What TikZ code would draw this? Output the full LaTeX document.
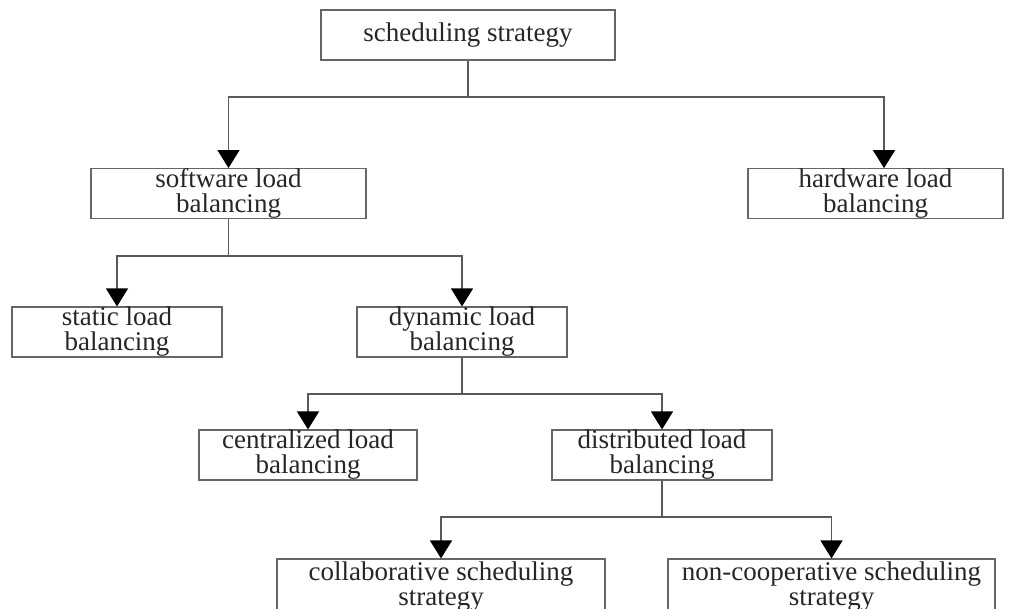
\documentclass[tikz,border=0pt]{standalone}
\usepackage{fontspec}
\setmainfont{Liberation Serif}
\usetikzlibrary{arrows.meta}
\begin{document}
\begin{tikzpicture}[x=1pt,y=-1pt,
  box/.style={draw=black!60,line width=1.1pt,inner sep=0pt,align=center,
    text=black!85,font=\fontsize{27pt}{25pt}\selectfont},
  link/.style={draw=black!65,line width=1.2pt},
  arr/.style={link,-{Triangle[width=22pt,length=18pt,black]}}]
\useasboundingbox (0,0) rectangle (1011,609);
\node[box,minimum width=294pt,minimum height=50pt] (top) at (468,35) {scheduling strategy};
\node[box,minimum width=275pt,minimum height=49pt] (soft) at (228.5,193.5) {software load\\balancing};
\node[box,minimum width=255pt,minimum height=49pt] (hard) at (875.5,193.5) {hardware load\\balancing};
\node[box,minimum width=210pt,minimum height=50pt] (stat) at (117,332) {static load\\balancing};
\node[box,minimum width=210pt,minimum height=50pt] (dyn) at (462,332) {dynamic load\\balancing};
\node[box,minimum width=218pt,minimum height=50pt] (cent) at (308,455) {centralized load\\balancing};
\node[box,minimum width=220pt,minimum height=50pt] (dist) at (662,455) {distributed load\\balancing};
\node[box,minimum width=328pt,minimum height=56pt] (coll) at (441,587) {collaborative scheduling\\strategy};
\node[box,minimum width=327pt,minimum height=56pt] (ncoop) at (831.5,587) {non-cooperative scheduling\\strategy};
\coordinate (j1) at (468,97);
\coordinate (j2) at (228.5,256);
\coordinate (j3) at (462,394);
\coordinate (j4) at (662,517);
\draw[link] (top.south) -- (j1);
\draw[arr] (j1) -| (soft.north);
\draw[arr] (j1) -| ([xshift=8.5pt]hard.north);
\draw[link] (soft.south) -- (j2);
\draw[arr] (j2) -| (stat.north);
\draw[arr] (j2) -| (dyn.north);
\draw[link] (dyn.south) -- (j3);
\draw[arr] (j3) -| (cent.north);
\draw[arr] (j3) -| (dist.north);
\draw[link] (dist.south) -- (j4);
\draw[arr] (j4) -| (coll.north);
\draw[arr] (j4) -| (ncoop.north);
\end{tikzpicture}
\end{document}
